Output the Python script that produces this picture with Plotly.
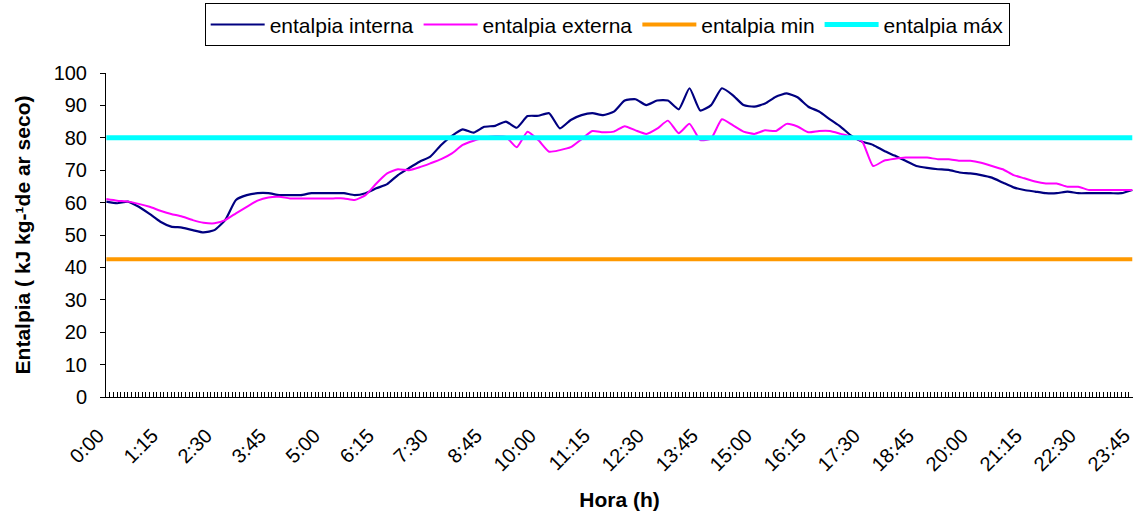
import plotly.graph_objects as go

# Time of day, sampled every 15 minutes (0:00 .. 23:45)
minutos = list(range(0, 1440, 15))

# Enthalpy readings (kJ/kg dry air), one value per 15-minute step
entalpia_interna = [
    60.3, 59.8, 60.3, 58.7, 56.5, 54.1, 52.6, 52.3, 51.5, 50.8, 51.5, 54.6,
    60.8, 62.3, 62.9, 62.9, 62.3, 62.3, 62.3, 62.9, 62.9, 62.9, 62.9, 62.3,
    62.9, 64.4, 65.7, 68.5, 70.6, 72.6, 74.2, 77.8, 80.6, 82.6, 81.6, 83.4,
    83.7, 85.0, 83.1, 86.7, 86.8, 87.6, 82.9, 85.5, 87.0, 87.6, 87.0, 88.1,
    91.5, 91.9, 90.1, 91.5, 91.5, 88.8, 95.3, 88.4, 90.1, 95.3, 93.2, 90.1,
    89.6, 90.6, 92.7, 93.7, 92.5, 89.6, 88.1, 85.7, 83.4, 80.6, 78.8, 77.8,
    76.0, 74.5, 72.9, 71.3, 70.7, 70.3, 70.1, 69.3, 69.0, 68.5, 67.7, 66.2,
    64.7, 63.9, 63.4, 62.9, 62.9, 63.4, 62.9, 62.9, 62.9, 62.9, 62.9, 63.9,
]
entalpia_externa = [
    61.1, 60.6, 60.3, 59.6, 58.7, 57.5, 56.5, 55.7, 54.6, 53.8, 53.6, 54.6,
    56.7, 58.7, 60.6, 61.6, 61.8, 61.3, 61.3, 61.3, 61.3, 61.3, 61.3, 60.8,
    62.3, 65.9, 69.0, 70.3, 70.0, 70.9, 72.1, 73.4, 75.2, 77.8, 79.1, 80.1,
    80.5, 80.3, 77.1, 81.9, 79.3, 75.7, 76.2, 77.1, 79.6, 82.1, 81.7, 81.9,
    83.6, 82.3, 81.2, 82.8, 85.3, 81.4, 84.3, 79.3, 79.8, 85.7, 83.9, 81.9,
    81.2, 82.3, 82.1, 84.3, 83.5, 81.7, 82.1, 82.1, 81.2, 80.3, 78.8, 71.3,
    72.9, 73.5, 73.9, 73.9, 73.9, 73.4, 73.4, 72.9, 72.9, 72.3, 71.3, 70.3,
    68.5, 67.5, 66.5, 65.9, 65.9, 64.9, 64.9, 63.9, 63.9, 63.9, 63.9, 63.9,
]
limite_min = 42.5
limite_max = 80.0
entalpia_min = [limite_min] * len(minutos)
entalpia_max = [limite_max] * len(minutos)

# Axis labels every 1:15
tick_minutos = list(range(0, 1440, 75))
tick_labels = [
    "0:00", "1:15", "2:30", "3:45", "5:00", "6:15", "7:30", "8:45", "10:00",
    "11:15", "12:30", "13:45", "15:00", "16:15", "17:30", "18:45", "20:00",
    "21:15", "22:30", "23:45",
]

FONT = "Liberation Sans, Arial, sans-serif"

fig = go.Figure()
fig.add_trace(go.Scatter(
    x=minutos, y=entalpia_interna, name="entalpia interna", mode="lines",
    line=dict(color="#000080", width=2.2, shape="spline", smoothing=0.5),
))
fig.add_trace(go.Scatter(
    x=minutos, y=entalpia_externa, name="entalpia externa", mode="lines",
    line=dict(color="#FF00FF", width=2, shape="spline", smoothing=0.5),
))
fig.add_trace(go.Scatter(
    x=minutos, y=entalpia_min, name="entalpia min", mode="lines",
    line=dict(color="#FF9900", width=4),
))
fig.add_trace(go.Scatter(
    x=minutos, y=entalpia_max, name="entalpia máx", mode="lines",
    line=dict(color="#00FFFF", width=5),
))

fig.update_layout(
    width=1135, height=516,
    margin=dict(l=106, r=2, t=73, b=119),
    paper_bgcolor="white", plot_bgcolor="white",
    font=dict(family=FONT, size=20, color="black"),
    showlegend=True,
    legend=dict(
        orientation="h", x=0.488, xanchor="center", y=1.215, yanchor="top",
        bordercolor="black", borderwidth=1, bgcolor="white",
        font=dict(family=FONT, size=21, color="black"),
        itemwidth=54, tracegroupgap=0,
    ),
    xaxis=dict(
        range=[-0.5, 1426], showgrid=False, zeroline=False,
        showline=True, linecolor="black", linewidth=1,
        tickmode="array", tickvals=tick_minutos, ticktext=tick_labels,
        tickangle=-45, ticks="inside", ticklen=5, tickcolor="black",
        tickfont=dict(family=FONT, size=20),
        ticklabelstandoff=18, ticklabelshift=-8,
        minor=dict(dtick=5, tick0=0, ticks="inside", ticklen=5,
                   tickcolor="black", showgrid=False),
        title=dict(text="<b>Hora (h)</b>", font=dict(family=FONT, size=21),
                   standoff=18),
        automargin=False,
    ),
    yaxis=dict(
        range=[0, 100], dtick=10, showgrid=False, zeroline=False,
        showline=True, linecolor="black", linewidth=1,
        ticks="outside", ticklen=5, tickcolor="black",
        tickfont=dict(family=FONT, size=20), ticklabelstandoff=9,
        title=dict(text="<b>Entalpia ( kJ kg-¹de ar seco)</b>",
                   font=dict(family=FONT, size=21), standoff=17),
        automargin=False,
    ),
)

fig.write_html("out.html")
